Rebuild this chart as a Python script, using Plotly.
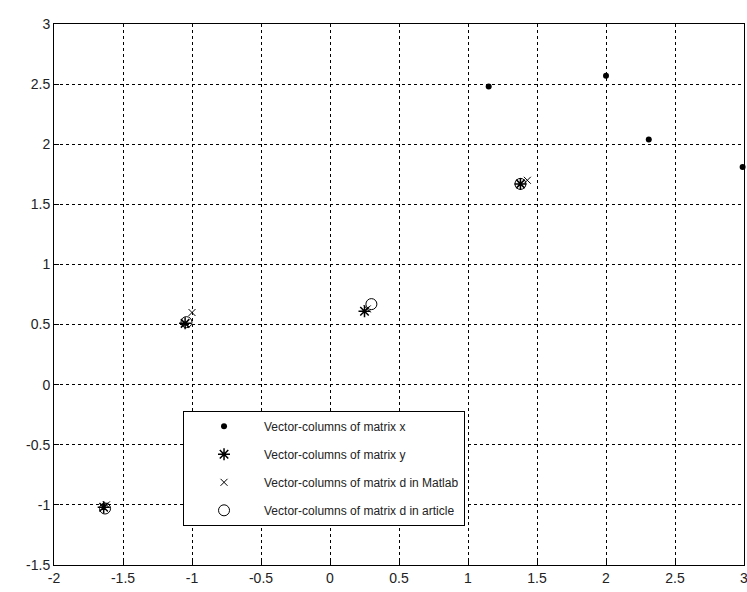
import plotly.graph_objects as go

# data
x_cols_x = [1.15, 2.0, 2.31, 2.99]
x_cols_y = [2.48, 2.57, 2.04, 1.81]

y_cols_x = [-1.64, -1.05, 0.25, 1.38]
y_cols_y = [-1.02, 0.51, 0.61, 1.67]

dm_x = [-1.62, -1.0, 0.27, 1.43]
dm_y = [-1.00, 0.60, 0.63, 1.70]

da_x = [-1.63, -1.04, 0.30, 1.38]
da_y = [-1.03, 0.52, 0.67, 1.67]

x_ticks = [-2, -1.5, -1, -0.5, 0, 0.5, 1, 1.5, 2, 2.5, 3]
y_ticks = [-1.5, -1, -0.5, 0, 0.5, 1, 1.5, 2, 2.5, 3]

names = ["Vector-columns of matrix x",
         "Vector-columns of matrix y",
         "Vector-columns of matrix d in Matlab",
         "Vector-columns of matrix d in article"]

fig = go.Figure()
fig.add_trace(go.Scatter(x=x_cols_x, y=x_cols_y, mode="markers", name=names[0], legendgroup="a",
                         cliponaxis=False,
                         marker=dict(symbol="circle", size=6, color="black")))
fig.add_trace(go.Scatter(x=y_cols_x, y=y_cols_y, mode="markers", name=names[1], legendgroup="b",
                         cliponaxis=False,
                         marker=dict(symbol="asterisk-open", size=10, color="black",
                                     line=dict(color="black", width=1.5))))
fig.add_trace(go.Scatter(x=dm_x, y=dm_y, mode="markers", name=names[2], legendgroup="c",
                         cliponaxis=False,
                         marker=dict(symbol="x-thin-open", size=7, color="black",
                                     line=dict(color="black", width=1))))
fig.add_trace(go.Scatter(x=da_x, y=da_y, mode="markers", name=names[3], legendgroup="d",
                         cliponaxis=False,
                         marker=dict(symbol="circle-open", size=11, color="black",
                                     line=dict(color="black", width=1))))

axis_common = dict(showline=True, linecolor="black", linewidth=1, mirror=True,
                   ticks="inside", ticklen=5, tickcolor="black",
                   showgrid=True, gridcolor="black", gridwidth=1, griddash="dot",
                   zeroline=False, automargin=False, ticklabeloverflow="allow",
                   tickfont=dict(family="Liberation Sans", size=14, color="#222"))

fig.update_xaxes(range=[-2, 3], tickvals=x_ticks, ticktext=[f"{v:g}" for v in x_ticks], **axis_common)
fig.update_yaxes(range=[-1.5, 3], tickvals=y_ticks, ticktext=[f"{v:g}" for v in y_ticks], **axis_common)

fig.update_layout(
    width=747, height=592,
    margin=dict(l=54, r=3, t=24, b=27, autoexpand=False),
    plot_bgcolor="white", paper_bgcolor="white",
    showlegend=True,
    legend=dict(x=0.187, y=0.285, xanchor="left", yanchor="top",
                bgcolor="white", bordercolor="black", borderwidth=1,
                font=dict(family="Liberation Sans", size=12, color="#222"),
                tracegroupgap=9, itemwidth=70),
)

fig.write_html("out.html",
               config={"displayModeBar": False},
               post_script="document.body.style.margin='0';document.body.style.overflow='hidden';")
